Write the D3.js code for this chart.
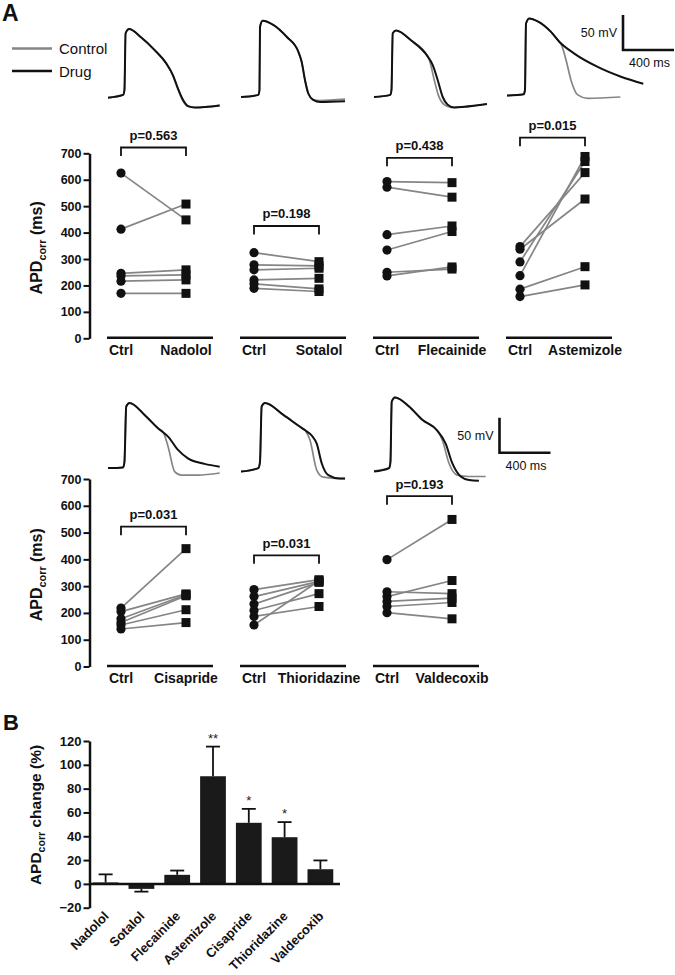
<!DOCTYPE html>
<html><head><meta charset="utf-8">
<script src="https://cdn.jsdelivr.net/npm/d3@7"></script>
<style>body{margin:0;background:#fff} svg{display:block} text{font-family:"Liberation Sans",Arial,Helvetica,sans-serif}</style>
</head><body><svg id="c" width="675" height="975"></svg>
<script>
// ---------------- DATA ----------------
const drugsTop = ["Nadolol", "Sotalol", "Flecainide", "Astemizole"];
const drugsBottom = ["Cisapride", "Thioridazine", "Valdecoxib"];
const pTop = ["p=0.563", "p=0.198", "p=0.438", "p=0.015"];
const pBottom = ["p=0.031", "p=0.031", "p=0.193"];
const bracketTop = [722, 425, 683, 759];      // bracket level (ms)
const bracketBottom = [522, 415, 636];
const apdTicks = [0, 100, 200, 300, 400, 500, 600, 700];

// APDcorr (ms), paired Ctrl -> Drug
const ctrlNadolol = [625, 413, 246, 236, 216, 170];
const drugNadolol = [448, 508, 259, 240, 221, 170];
const ctrlSotalol = [324, 278, 259, 221, 206, 189];
const drugSotalol = [290, 274, 265, 227, 187, 177];
const ctrlFlecainide = [593, 572, 392, 334, 250, 236];
const drugFlecainide = [589, 534, 425, 404, 262, 270];
const ctrlAstemizole = [347, 337, 289, 237, 186, 158];
const drugAstemizole = [627, 527, 669, 688, 271, 202];
const ctrlCisapride = [218, 205, 178, 164, 155, 140];
const drugCisapride = [440, 271, 268, 264, 212, 164];
const ctrlThioridazine = [287, 261, 233, 209, 187, 155];
const drugThioridazine = [324, 318, 314, 272, 224, 320];
const ctrlValdecoxib = [399, 279, 261, 243, 224, 201];
const drugValdecoxib = [549, 272, 321, 255, 239, 178];

// Action potential traces: [time ms, membrane potential mV]
const apCtrlNadolol = [[0,-76],[118,-72],[129,-65],[138,16],[165,22],[261,10],[366,-8],[455,-27],[508,-44],[547,-63],[586,-80],[625,-88],[680,-90],[876,-87]];
const apDrugNadolol = [[0,-76],[118,-72],[129,-65],[138,16],[165,22],[261,10],[366,-8],[457,-27],[510,-44],[549,-63],[588,-79],[627,-88],[680,-90],[876,-87]];
const apCtrlSotalol = [[0,-75],[136,-72],[145,-65],[149,25],[170,34],[253,28],[358,11],[449,-10],[476,-25],[502,-51],[528,-70],[567,-79],[620,-80],[816,-78]];
const apDrugSotalol = [[0,-75],[136,-72],[145,-65],[149,25],[170,34],[253,28],[358,11],[449,-10],[476,-25],[502,-51],[528,-70],[567,-79],[620,-82],[816,-81]];
const apCtrlFlecainide = [[0,-75],[128,-72],[137,-65],[147,16],[173,20],[290,6],[421,-17],[434,-22],[473,-51],[504,-72],[551,-86],[604,-90],[708,-89],[886,-85]];
const apDrugFlecainide = [[0,-75],[128,-72],[137,-65],[147,16],[173,20],[290,6],[421,-17],[460,-29],[500,-51],[539,-75],[578,-86],[630,-90],[708,-89],[886,-85]];
const apCtrlAstemizole = [[0,-73],[131,-71],[141,-65],[149,30],[175,37],[241,33],[345,18],[410,4],[423,1],[463,-22],[502,-51],[555,-72],[633,-77],[889,-75]];
const apDrugAstemizole = [[0,-73],[131,-71],[141,-65],[149,30],[175,37],[241,33],[345,18],[410,4],[528,-13],[711,-32],[894,-46],[1069,-56]];
const apCtrlCisapride = [[0,-73],[118,-72],[129,-64],[143,15],[169,20],[287,3],[392,-16],[431,-21],[471,-42],[523,-78],[575,-83],[706,-83],[876,-80]];
const apDrugCisapride = [[0,-73],[118,-72],[129,-64],[143,15],[169,20],[287,3],[392,-16],[471,-28],[549,-47],[627,-59],[758,-67],[876,-71]];
const apCtrlThioridazine = [[0,-78],[136,-73],[149,-64],[162,15],[188,20],[332,3],[463,-14],[503,-19],[541,-33],[594,-76],[645,-86],[776,-88],[816,-88]];
const apDrugThioridazine = [[0,-78],[136,-73],[149,-64],[162,15],[188,20],[332,3],[463,-14],[503,-19],[557,-27],[594,-38],[633,-66],[685,-83],[776,-88],[816,-88]];
const apCtrlValdecoxib = [[0,-77],[118,-73],[129,-64],[139,22],[165,28],[275,15],[379,-4],[494,-19],[536,-33],[588,-66],[653,-83],[745,-85],[876,-85]];
const apDrugValdecoxib = [[0,-78],[118,-73],[129,-64],[139,22],[165,28],[275,15],[379,-4],[494,-19],[562,-38],[614,-66],[680,-85],[745,-90],[823,-91]];

// Panel B: APDcorr change (%)
const barNames = ["Nadolol", "Sotalol", "Flecainide", "Astemizole", "Cisapride", "Thioridazine", "Valdecoxib"];
const barMeans = [1.2, -4.2, 7.6, 90.4, 51.3, 39.2, 12.3];
const barSEM = [6.8, 2.3, 3.6, 24.9, 11.7, 12.7, 7.4];
const barStars = ["", "", "", "**", "*", "*", ""];
const changeTicks = [-20, 0, 20, 40, 60, 80, 100, 120];

// ---------------- DRAWING ----------------
const svg = d3.select("#c");
const GRAY = "#858585";

const rowsData = [
  { drugs: drugsTop, p: pTop, br: bracketTop,
    ctrl: [ctrlNadolol, ctrlSotalol, ctrlFlecainide, ctrlAstemizole],
    drug: [drugNadolol, drugSotalol, drugFlecainide, drugAstemizole],
    apC: [apCtrlNadolol, apCtrlSotalol, apCtrlFlecainide, apCtrlAstemizole],
    apD: [apDrugNadolol, apDrugSotalol, apDrugFlecainide, apDrugAstemizole],
    y: d3.scaleLinear().domain([0, 700]).range([338.3, 153.3]),
    v: d3.scaleLinear().domain([0, 50]).range([44.5, 9.5]),
    bar: {x: 623, y: 50} },
  { drugs: drugsBottom, p: pBottom, br: bracketBottom,
    ctrl: [ctrlCisapride, ctrlThioridazine, ctrlValdecoxib],
    drug: [drugCisapride, drugThioridazine, drugValdecoxib],
    apC: [apCtrlCisapride, apCtrlThioridazine, apCtrlValdecoxib],
    apD: [apDrugCisapride, apDrugThioridazine, apDrugValdecoxib],
    y: d3.scaleLinear().domain([0, 700]).range([666.5, 479]),
    v: d3.scaleLinear().domain([0, 50]).range([417, 382]),
    bar: {x: 499.5, y: 452.7} }
];

const band = d3.scaleBand().domain(d3.range(4)).range([100, 632]);
const pair = d3.scalePoint().domain(["Ctrl", "Drug"]).range([21, 86]);
const tScale = d3.scaleLinear().domain([0, 400]).range([0, 51]);

function styleAxis(ax, fs) {
  ax.select(".domain").attr("stroke-width", 2.5).attr("stroke", "#111");
  ax.selectAll(".tick line").attr("stroke-width", 2).attr("stroke", "#111");
  ax.selectAll(".tick text").attr("font-size", fs).attr("font-weight", "bold")
    .attr("font-family", '"Liberation Sans", Arial, sans-serif').attr("fill", "#111");
}

function subLabel(g, x, y, main, sub, rest, fs) {
  const t = g.append("text").attr("transform", `translate(${x},${y}) rotate(-90)`)
    .attr("text-anchor", "middle").attr("font-weight", "bold").attr("font-size", fs).attr("fill", "#111");
  t.append("tspan").text(main);
  t.append("tspan").attr("font-size", fs * 0.68).attr("dy", 4).text(sub);
  t.append("tspan").attr("dy", -4).text(rest);
}

rowsData.forEach(row => {
  const y = row.y;
  const g = svg.append("g");
  const ax = g.append("g").attr("transform", "translate(89.5,0)")
    .call(d3.axisLeft(y).tickValues(apdTicks).tickSize(6).tickSizeOuter(0).tickPadding(2));
  styleAxis(ax, 12.5);
  subLabel(g, 42, (y(0) + y(700)) / 2 + 2, "APD", "corr", " (ms)", 16);

  row.drugs.forEach((name, i) => {
    const b = band(i);
    const gg = g.append("g").attr("transform", `translate(${b},0)`);
    gg.append("line").attr("x1", 7).attr("x2", 113).attr("y1", y(0) - 0.5).attr("y2", y(0) - 0.5)
      .attr("stroke", "#111").attr("stroke-width", 2.5);
    gg.append("text").attr("x", pair("Ctrl")).attr("y", y(0) + 16.5).attr("text-anchor", "middle")
      .attr("font-size", 14).attr("font-weight", "bold").attr("fill", "#111").text("Ctrl");
    gg.append("text").attr("x", pair("Drug")).attr("y", y(0) + 16.5).attr("text-anchor", "middle")
      .attr("font-size", 14).attr("font-weight", "bold").attr("fill", "#111").text(name);
    const c = row.ctrl[i], d = row.drug[i];
    gg.selectAll("line.pair").data(c).enter().append("line").attr("class", "pair")
      .attr("x1", pair("Ctrl")).attr("x2", pair("Drug"))
      .attr("y1", v => y(v)).attr("y2", (v, k) => y(d[k]))
      .attr("stroke", GRAY).attr("stroke-width", 1.7);
    gg.selectAll("circle").data(c).enter().append("circle")
      .attr("cx", pair("Ctrl")).attr("cy", v => y(v)).attr("r", 4.6).attr("fill", "#111");
    gg.selectAll("rect.sq").data(d).enter().append("rect").attr("class", "sq")
      .attr("x", pair("Drug") - 4.5).attr("y", v => y(v) - 4.5).attr("width", 9).attr("height", 9).attr("fill", "#111");
    const top = y(row.br[i]);
    gg.append("path").attr("d", `M${pair("Ctrl")},${top + 8.5}V${top}H${pair("Drug")}V${top + 8.5}`)
      .attr("fill", "none").attr("stroke", "#111").attr("stroke-width", 1.8);
    gg.append("text").attr("x", (pair("Ctrl") + pair("Drug")) / 2).attr("y", top - 7.5)
      .attr("text-anchor", "middle").attr("font-size", 13).attr("font-weight", "bold").attr("fill", "#111")
      .text(row.p[i]);
    const line = d3.line().x(p => b + 8 + tScale(p[0])).y(p => row.v(p[1])).curve(d3.curveMonotoneX);
    g.append("path").attr("d", line(row.apC[i])).attr("fill", "none").attr("stroke", GRAY).attr("stroke-width", 1.7);
    g.append("path").attr("d", line(row.apD[i])).attr("fill", "none").attr("stroke", "#111").attr("stroke-width", 2);
  });

  const sb = row.bar;
  const h = row.v(0) - row.v(50), w = tScale(400);
  g.append("path").attr("d", `M${sb.x},${sb.y - h}V${sb.y}H${sb.x + w}`)
    .attr("fill", "none").attr("stroke", "#111").attr("stroke-width", 2.6);
  g.append("text").attr("x", sb.x - 6).attr("y", sb.y - h / 2 + 4.5).attr("text-anchor", "end")
    .attr("font-size", 12.5).attr("fill", "#111").text("50 mV");
  g.append("text").attr("x", sb.x + w / 2 + 1).attr("y", sb.y + 17).attr("text-anchor", "middle")
    .attr("font-size", 12.5).attr("fill", "#111").text("400 ms");
});

// Legend
svg.append("line").attr("x1", 12).attr("x2", 52).attr("y1", 48.5).attr("y2", 48.5).attr("stroke", GRAY).attr("stroke-width", 2.5);
svg.append("line").attr("x1", 12).attr("x2", 52).attr("y1", 71).attr("y2", 71).attr("stroke", "#111").attr("stroke-width", 2.5);
svg.append("text").attr("x", 59).attr("y", 54).attr("font-size", 15).attr("fill", "#111").text("Control");
svg.append("text").attr("x", 59).attr("y", 76.5).attr("font-size", 15).attr("fill", "#111").text("Drug");

// Panel letters
svg.append("text").attr("x", 2).attr("y", 21).attr("font-size", 23).attr("font-weight", "bold").attr("fill", "#111").text("A");
svg.append("text").attr("x", 3).attr("y", 730).attr("font-size", 22).attr("font-weight", "bold").attr("fill", "#111").text("B");

// ---------------- Panel B ----------------
const xB = d3.scaleBand().domain(barNames).range([87, 339]).paddingInner(0.28).paddingOuter(0.16);
const yB = d3.scaleLinear().domain([-20, 120]).range([907.7, 741]);
const gB = svg.append("g");
gB.selectAll("rect.bar").data(barNames).enter().append("rect").attr("class", "bar")
  .attr("x", n => xB(n)).attr("width", xB.bandwidth())
  .attr("y", (n, i) => yB(Math.max(0, barMeans[i])))
  .attr("height", (n, i) => Math.abs(yB(barMeans[i]) - yB(0)))
  .attr("fill", "#1a1a1a");
barNames.forEach((n, i) => {
  const cx = xB(n) + xB.bandwidth() / 2;
  const m = barMeans[i], e = barMeans[i] >= 0 ? m + barSEM[i] : m - barSEM[i];
  gB.append("line").attr("x1", cx).attr("x2", cx).attr("y1", yB(m)).attr("y2", yB(e)).attr("stroke", "#111").attr("stroke-width", 1.8);
  gB.append("line").attr("x1", cx - 7).attr("x2", cx + 7).attr("y1", yB(e)).attr("y2", yB(e)).attr("stroke", "#111").attr("stroke-width", 1.8);
  if (barStars[i]) gB.append("text").attr("x", cx).attr("y", yB(e) - 4).attr("text-anchor", "middle")
    .attr("font-size", 13).attr("fill", "#222").text(barStars[i]);
  gB.append("text").attr("transform", `translate(${cx + 4},917) rotate(-45)`).attr("text-anchor", "end")
    .attr("font-size", 13).attr("font-weight", "bold").attr("fill", "#111").text(n);
});
gB.append("line").attr("x1", 89).attr("x2", 340).attr("y1", yB(0)).attr("y2", yB(0)).attr("stroke", "#111").attr("stroke-width", 2.5);
const axB = gB.append("g").attr("transform", "translate(89.5,0)")
  .call(d3.axisLeft(yB).tickValues(changeTicks).tickSize(6).tickSizeOuter(0).tickPadding(2));
styleAxis(axB, 13);
subLabel(gB, 41, 815, "APD", "corr", " change (%)", 15.5);
</script>
</body></html>
